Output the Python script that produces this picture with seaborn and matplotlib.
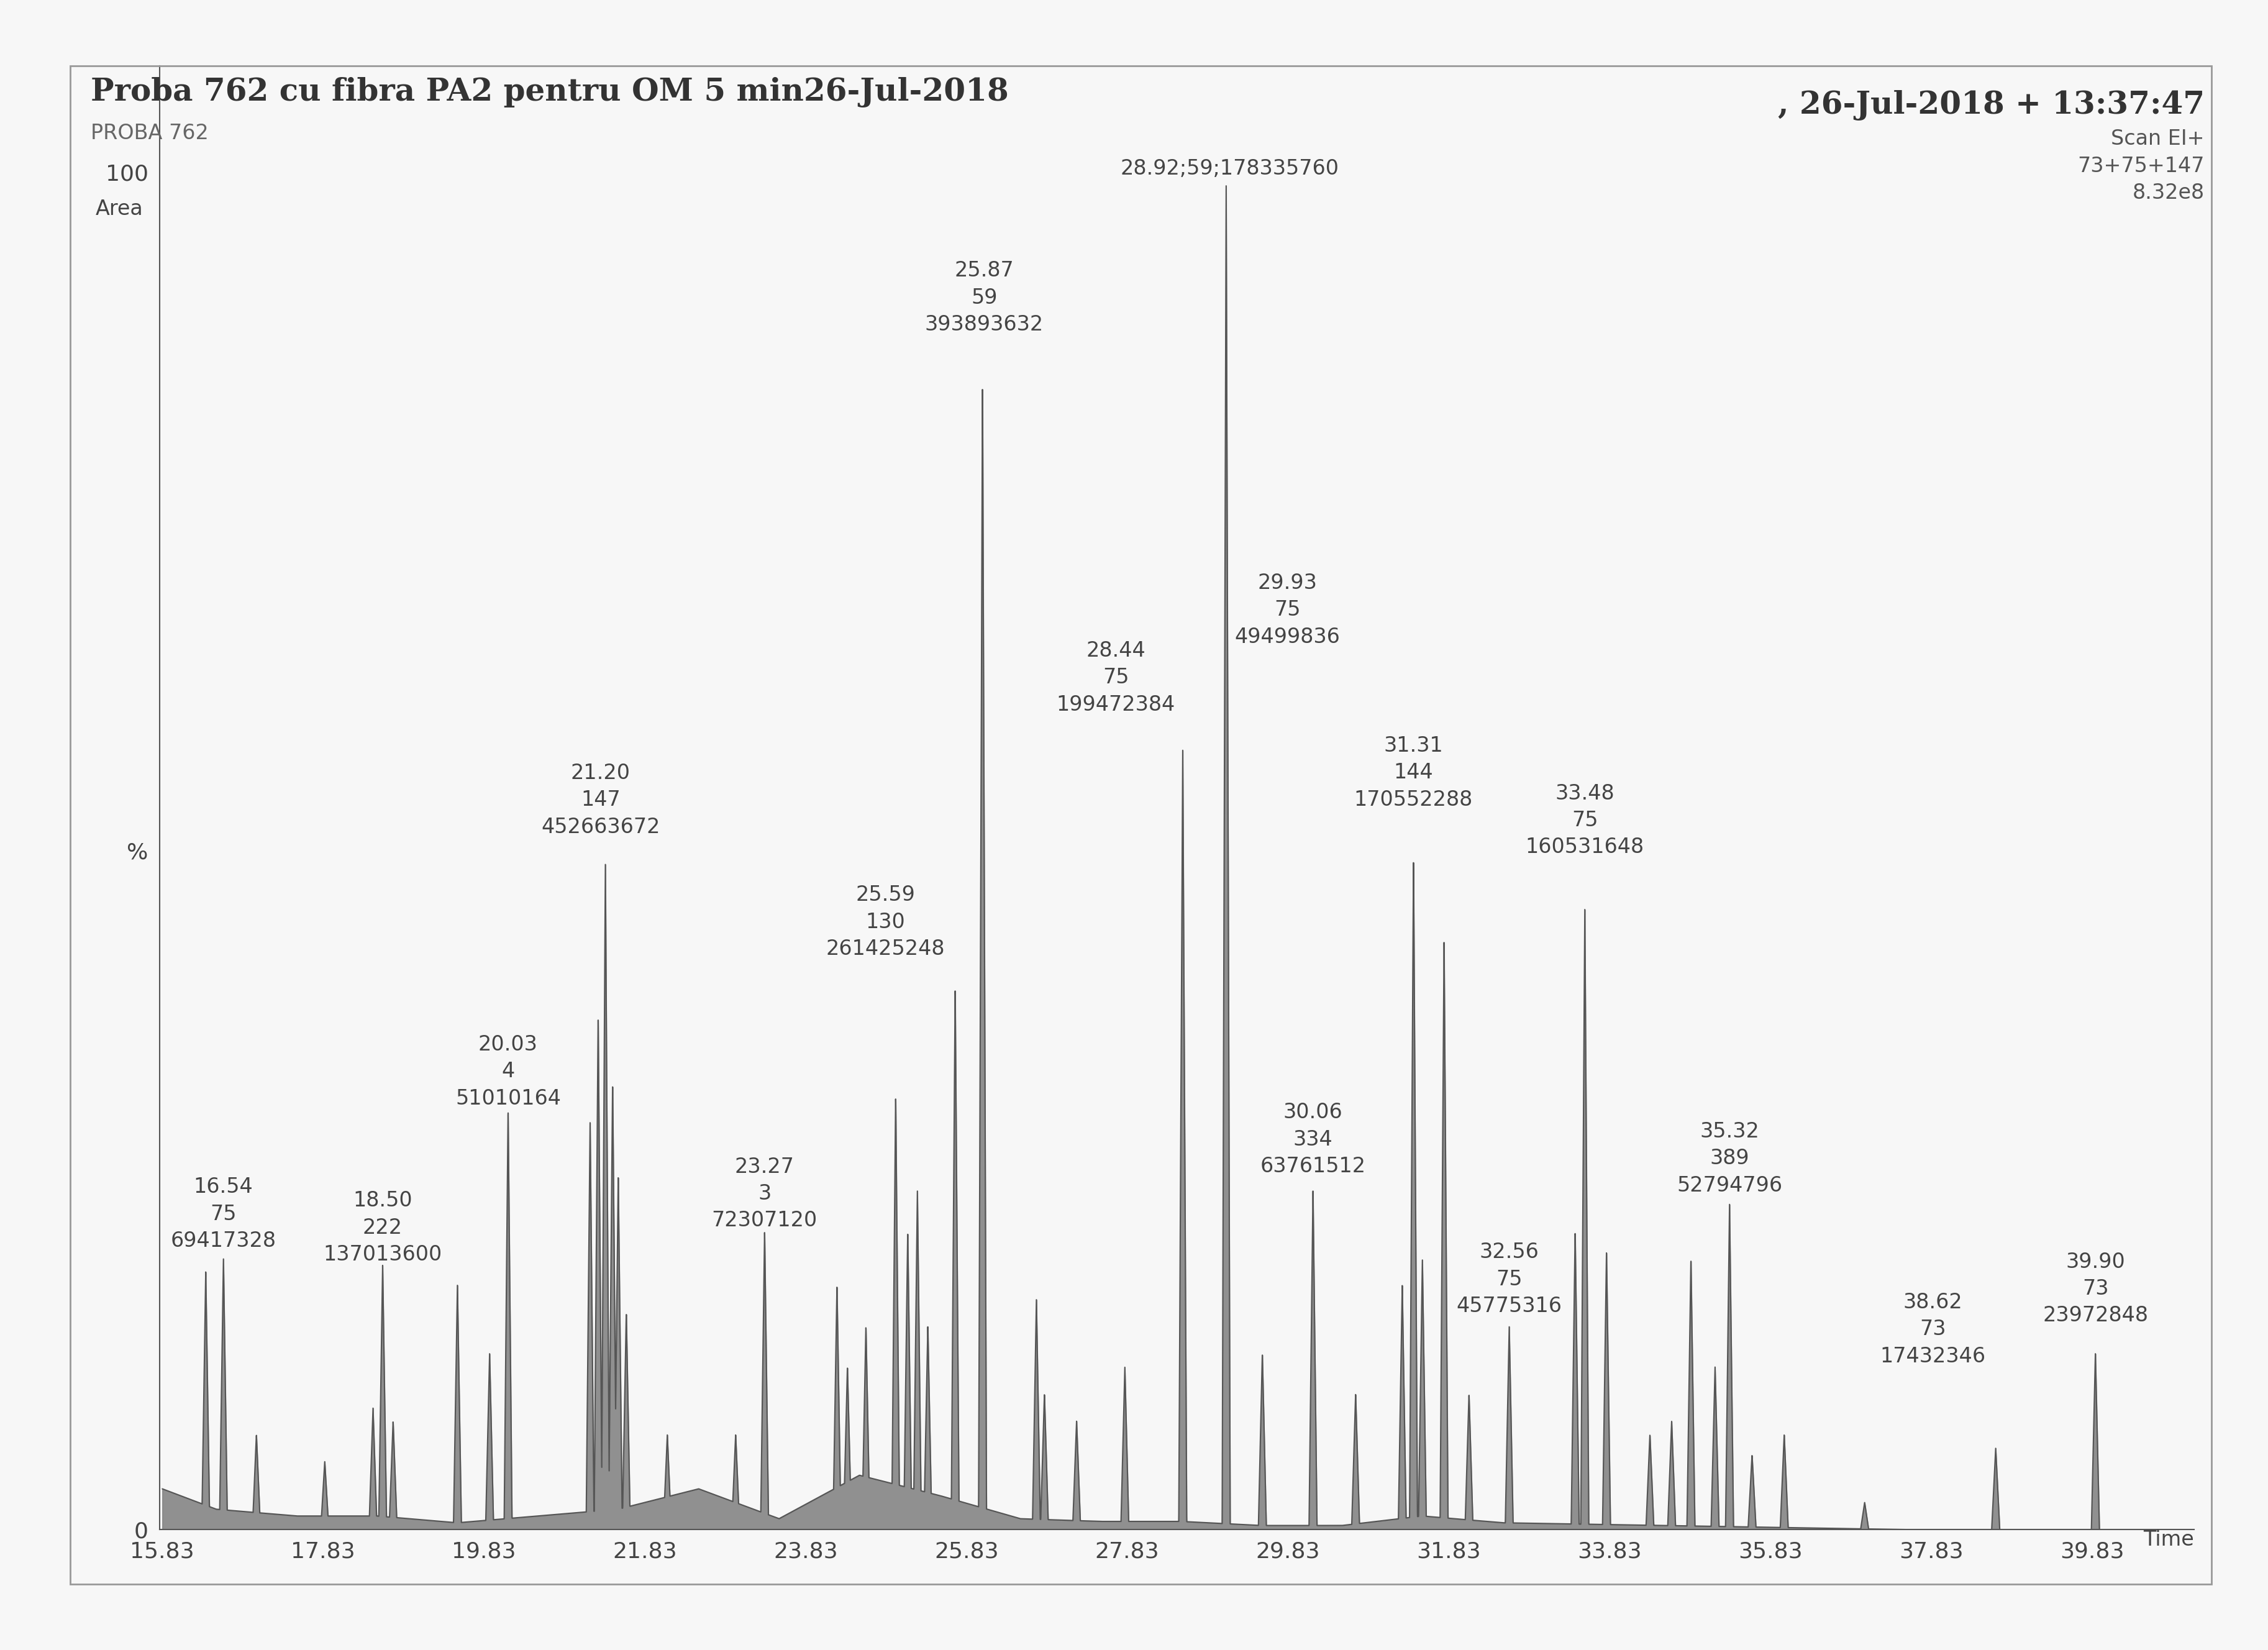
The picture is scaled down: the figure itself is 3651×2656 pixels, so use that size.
import numpy as np
import pandas as pd
import matplotlib
matplotlib.use("Agg")
import matplotlib.pyplot as plt
import seaborn as sns

# peak retention times (min) and heights (%)
peak_time = [16.37, 16.59, 17.0, 17.85, 18.45, 18.57, 18.7, 19.5, 19.9, 20.13, 21.15, 21.25,
             21.34, 21.43, 21.5, 21.6, 22.11, 22.96, 23.32, 24.22, 24.35, 24.58, 24.95, 25.1,
             25.22, 25.35, 25.69, 26.03, 26.70, 26.8, 27.2, 27.8, 28.52, 29.06, 29.51, 30.14,
             30.67, 31.25, 31.39, 31.5, 31.77, 32.08, 32.58, 33.4, 33.52, 33.79, 34.33, 34.6,
             34.84, 35.14, 35.32, 35.6, 36.0, 37.0, 38.63, 39.87]
peak_height = [19, 20, 7, 5, 9, 19.5, 8, 18, 13, 31, 30, 38,
               49, 33, 26, 16, 7, 7, 22, 18, 12, 15, 32, 22,
               25, 15, 40, 85, 17, 10, 8, 12, 57.5, 99, 13, 25,
               10, 18, 49.5, 20, 43.5, 10, 15, 22, 46, 20.5, 7, 8,
               20, 12, 24, 5.5, 7, 2, 6, 13]
peak_width = 0.05

# baseline drift (%)
base_time = [15.83, 16.5, 17.5, 18.5, 19.5, 20.5, 21.5, 22.5, 23.5, 24.5, 25.5, 26.5, 27.5,
             28.5, 29.5, 30.5, 31.5, 32.5, 33.5, 34.5, 35.5, 36.5, 37.5, 38.5, 39.83, 41.0]
base_level = [3.0, 1.5, 1.0, 1.0, 0.5, 1.0, 1.5, 3.0, 0.8, 4.0, 2.5, 0.8, 0.6,
              0.6, 0.3, 0.3, 1.0, 0.5, 0.4, 0.3, 0.2, 0.1, 0.0, 0.0, 0.0, 0.0]

# annotations: x (min), bottom y (%), text
label_x = [16.59, 18.57, 20.13, 21.28, 23.32, 24.82, 26.05, 27.69, 29.1, 29.82, 30.14,
           31.39, 32.58, 33.52, 35.32, 37.85, 39.87]
label_y = [20.5, 19.5, 31, 51, 22, 42, 88, 60, 99.5, 65, 26,
           53, 15.7, 49.5, 24.6, 12, 15]
label_text = ["16.54\n75\n69417328", "18.50\n222\n137013600", "20.03\n4\n51010164",
              "21.20\n147\n452663672", "23.27\n3\n72307120", "25.59\n130\n261425248",
              "25.87\n59\n393893632", "28.44\n75\n199472384", "28.92;59;178335760",
              "29.93\n75\n49499836", "30.06\n334\n63761512", "31.31\n144\n170552288",
              "32.56\n75\n45775316", "33.48\n75\n160531648", "35.32\n389\n52794796",
              "38.62\n73\n17432346", "39.90\n73\n23972848"]

x_ticks = [15.83, 17.83, 19.83, 21.83, 23.83, 25.83, 27.83, 29.83, 31.83, 33.83, 35.83, 37.83, 39.83]

# build trace from peaks (triangular spikes over baseline)
t = np.linspace(15.83, 41.0, 20000)
sig = np.interp(t, base_time, base_level)
for pt, ph in zip(peak_time, peak_height):
    tri = ph * np.clip(1 - np.abs(t - pt) / peak_width, 0, None)
    sig = np.maximum(sig, tri)
df = pd.DataFrame({"time": t, "area": sig})

sns.set_style("white")
fig = plt.figure(figsize=(36.51, 26.56), dpi=100)
fig.patch.set_facecolor("#f7f7f7")
ax = fig.add_axes([0.0705, 0.073, 0.897, 0.887])
ax.set_facecolor("#f7f7f7")

sns.lineplot(data=df, x="time", y="area", ax=ax, color="#555555", linewidth=1.5)
ax.fill_between(df["time"], df["area"], color="#777777", alpha=0.8)

ax.set_xlim(15.8, 41.1)
ax.set_ylim(0, 107.8)
ax.set_xticks(x_ticks)
ax.set_xticklabels([f"{v:.2f}" for v in x_ticks], fontsize=26, color="#444444")
ax.set_yticks([0, 50, 100])
ax.set_yticklabels(["0", "%", "100"], fontsize=26, color="#444444")
ax.tick_params(direction="out", length=10, width=1.5, colors="#444444")
ax.set_xlabel("")
ax.set_ylabel("")
for s in ["top", "right"]:
    ax.spines[s].set_visible(False)
for s in ["left", "bottom"]:
    ax.spines[s].set_color("#555555")
    ax.spines[s].set_linewidth(1.5)

for x, y, s in zip(label_x, label_y, label_text):
    ax.text(x, y, s, ha="center", va="bottom", fontsize=24, color="#444444", linespacing=1.4)

ax.text(41.1, -1.5, "Time", ha="right", va="bottom", fontsize=24, color="#444444")
ax.text(15.0, 98, "Area", ha="left", va="top", fontsize=24, color="#444444")

# header text
fig.text(0.04, 0.935, "Proba 762 cu fibra PA2 pentru OM 5 min26-Jul-2018", fontsize=36,
         family="DejaVu Serif", weight="bold", color="#333333", va="bottom")
fig.text(0.04, 0.913, "PROBA 762", fontsize=24, color="#666666", va="bottom")
fig.text(0.972, 0.927, ", 26-Jul-2018 + 13:37:47", fontsize=36, family="DejaVu Serif",
         weight="bold", color="#333333", ha="right", va="bottom")
fig.text(0.972, 0.922, "Scan EI+\n73+75+147\n8.32e8", fontsize=24, color="#555555",
         ha="right", va="top", linespacing=1.4)

# page frame
fig.add_artist(plt.Rectangle((0.031, 0.04), 0.944, 0.92, transform=fig.transFigure,
                             fill=False, edgecolor="#999999", linewidth=2))

fig.savefig("out.png", dpi=100, facecolor=fig.get_facecolor())
